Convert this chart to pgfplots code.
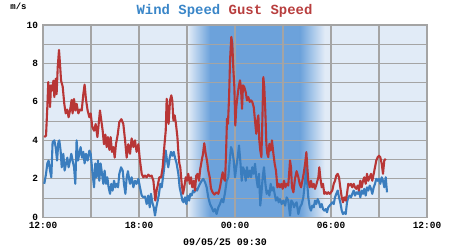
\documentclass[border=0pt]{standalone}
\usepackage{pgfplots}
\pgfplotsset{compat=1.18}
\usepackage{fontspec}
\setmainfont{Liberation Mono}
\definecolor{bgc}{HTML}{E1EBF7}
\definecolor{nightc}{HTML}{6CA2DB}
\definecolor{gridc}{HTML}{A4A4A4}
\definecolor{windc}{HTML}{3A7DBE}
\definecolor{gustc}{HTML}{B83636}
\definecolor{titleblue}{HTML}{3A86C8}
\definecolor{titlered}{HTML}{B83E3E}
\begin{document}
\begin{tikzpicture}
\begin{axis}[
  set layers,
  at={(43bp,33.3bp)}, anchor=south west,
  width=384bp, height=192.4bp, scale only axis,
  xmin=0, xmax=24, ymin=0, ymax=10,
  xtick={0,3,...,24},
  xticklabels={12:00,,18:00,,00:00,,06:00,,12:00},
  ytick={0,1,...,10},
  yticklabels={0,,2,,4,,6,,8,,10},
  major tick length=0pt,
  grid=major,
  major grid style={gridc, line width=1.1bp},
  axis line style={gridc, line width=1.3bp},
  tick label style={font=\fontsize{9.5}{10}\selectfont\bfseries, black},
  xticklabel style={yshift=-1.5bp},
  yticklabel style={xshift=-1.5bp},
]
\pgfplotsextra{%
\begin{pgfonlayer}{axis background}
\fill[bgc] (axis cs:0,0) rectangle (axis cs:24,10);
\shade[left color=bgc, right color=nightc] (axis cs:9.06,0) rectangle (axis cs:10.44,10);
\fill[nightc] (axis cs:10.43,0) rectangle (axis cs:16.07,10);
\shade[left color=nightc, right color=bgc] (axis cs:16.06,0) rectangle (axis cs:17.6,10);
\end{pgfonlayer}}
% Wind speed
\addplot[windc, line width=2.1bp, line join=round] coordinates {
(0.08,1.74)(0.19,2.26)(0.27,2.8)(0.35,2.95)(0.44,2.43)(0.52,2.08)(0.60,3.9)(0.71,4.0)
(0.79,3.65)(0.88,2.95)(0.96,3.9)(1.02,4.0)(1.10,3.47)(1.17,2.6)(1.27,3.3)(1.35,2.43)
(1.44,2.8)(1.52,3.1)(1.60,2.6)(1.69,2.95)(1.77,3.3)(1.85,2.95)(1.94,2.6)(2.02,1.74)
(2.10,4.0)(2.19,2.95)(2.27,3.3)(2.35,3.65)(2.44,3.1)(2.52,3.4)(2.60,2.8)(2.69,3.3)
(2.79,2.95)(2.90,3.47)(2.98,3.3)(3.08,2.43)(3.19,1.56)(3.27,2.8)(3.35,2.08)(3.44,2.95)
(3.52,1.9)(3.60,2.8)(3.69,2.26)(3.77,1.74)(3.85,2.43)(3.94,1.74)(4.02,2.08)(4.10,1.56)
(4.19,1.22)(4.27,1.74)(4.35,1.39)(4.44,1.9)(4.52,1.56)(4.60,1.74)(4.69,1.56)(4.77,2.26)
(4.88,2.6)(4.98,2.43)(5.06,1.74)(5.15,1.22)(5.23,2.08)(5.31,2.4)(5.40,1.9)(5.44,1.74)
(5.54,2.08)(5.65,1.56)(5.75,1.9)(5.85,1.74)(5.96,2.0)(6.06,1.56)(6.17,1.13)(6.27,1.04)
(6.38,1.08)(6.48,0.69)(6.58,1.13)(6.67,0.52)(6.75,1.22)(6.83,0.78)(6.92,0.52)(7.00,0.09)
(7.08,0.52)(7.17,0.87)(7.25,1.22)(7.33,1.74)(7.42,1.56)(7.50,2.08)(7.58,2.6)(7.67,3.47)
(7.75,2.95)(7.83,2.6)(7.92,3.1)(8.00,3.4)(8.08,3.2)(8.17,3.4)(8.25,3.1)(8.35,2.8)
(8.46,2.26)(8.54,1.56)(8.63,1.22)(8.71,0.87)(8.79,0.78)(8.88,1.04)(8.96,0.69)(9.04,1.13)
(9.13,0.87)(9.21,1.22)(9.29,1.13)(9.38,1.39)(9.46,1.3)(9.54,1.48)(9.63,1.39)(9.71,1.56)
(9.81,1.74)(9.92,1.9)(10.02,2.0)(10.13,1.82)(10.23,1.56)(10.33,1.04)(10.44,0.69)(10.54,0.52)
(10.65,0.3)(10.75,0.43)(10.85,0.17)(10.96,0.52)(11.06,0.69)(11.17,0.95)(11.27,0.78)(11.38,1.3)
(11.48,1.9)(11.58,2.08)(11.67,2.95)(11.75,3.65)(11.83,3.47)(11.92,2.95)(12.00,2.08)(12.08,2.6)
(12.17,3.13)(12.25,3.73)(12.33,2.95)(12.42,1.9)(12.50,2.6)(12.58,2.43)(12.67,1.9)(12.75,2.6)
(12.83,2.08)(12.92,2.43)(13.00,2.08)(13.08,2.6)(13.17,2.26)(13.25,2.78)(13.33,2.08)(13.42,1.56)
(13.50,2.26)(13.58,0.61)(13.65,1.22)(13.73,2.08)(13.81,2.6)(13.90,1.74)(13.98,1.22)(14.06,1.39)
(14.15,1.13)(14.23,1.74)(14.31,1.39)(14.40,1.56)(14.48,1.22)(14.56,0.87)(14.65,1.04)(14.73,0.78)
(14.81,0.95)(14.92,0.69)(15.02,0.87)(15.13,0.61)(15.23,1.04)(15.33,0.87)(15.44,0.09)(15.52,0.87)
(15.60,0.78)(15.69,0.52)(15.78,0.7)(15.85,0.78)(15.96,0.17)(16.06,0.52)(16.17,0.69)(16.27,1.04)
(16.38,1.9)(16.44,2.6)(16.50,1.9)(16.58,1.04)(16.67,0.52)(16.75,0.35)(16.83,0.61)(16.92,0.52)
(17.00,0.87)(17.08,0.69)(17.17,0.95)(17.25,0.78)(17.33,0.52)(17.42,0.69)(17.50,0.43)(17.58,0.35)
(17.67,0.43)(17.75,0.26)(17.83,0.52)(17.92,0.61)(18.00,0.69)(18.08,0.78)(18.17,0.69)(18.25,1.04)
(18.33,1.22)(18.42,1.39)(18.50,1.04)(18.58,0.78)(18.67,0.35)(18.75,0.17)(18.83,0.26)(18.92,0.17)
(19.00,0.78)(19.08,1.04)(19.17,1.13)(19.25,1.04)(19.33,1.22)(19.42,1.39)(19.50,1.13)(19.58,1.3)
(19.67,1.22)(19.75,1.39)(19.83,1.04)(19.92,1.39)(20.00,1.22)(20.08,1.48)(20.17,1.13)(20.25,1.56)
(20.33,1.39)(20.42,1.65)(20.50,1.48)(20.58,1.22)(20.67,1.56)(20.75,1.74)(20.83,2.0)(20.92,1.9)
(21.00,2.0)(21.08,1.74)(21.17,2.08)(21.25,1.9)(21.33,1.56)(21.42,2.08)(21.50,1.3)
};
% Gust speed
\addplot[gustc, line width=2.1bp, line join=round] coordinates {
(0.08,4.17)(0.19,4.25)(0.27,5.73)(0.33,7.03)(0.44,5.73)(0.50,6.86)(0.58,6.6)(0.65,7.1)
(0.71,6.25)(0.79,7.2)(0.85,6.4)(0.92,7.8)(1.00,8.7)(1.06,8.0)(1.13,7.1)(1.23,6.8)
(1.33,5.9)(1.42,5.4)(1.52,5.6)(1.60,5.2)(1.69,5.55)(1.79,6.1)(1.85,5.4)(1.94,6.15)
(2.02,5.55)(2.10,5.9)(2.21,5.4)(2.31,5.6)(2.42,5.55)(2.52,6.4)(2.60,6.9)(2.69,6.1)
(2.79,5.55)(2.90,5.2)(2.98,5.4)(3.08,4.7)(3.19,4.5)(3.29,4.85)(3.40,4.17)(3.48,4.85)
(3.56,5.55)(3.65,5.0)(3.73,4.5)(3.81,3.8)(3.90,4.3)(3.98,3.65)(4.06,4.17)(4.15,3.5)
(4.23,4.17)(4.31,3.4)(4.40,3.65)(4.48,3.1)(4.56,3.8)(4.67,4.3)(4.77,4.95)(4.90,5.1)
(5.02,4.85)(5.13,4.0)(5.23,3.1)(5.33,3.8)(5.44,3.3)(5.54,4.1)(5.65,3.65)(5.75,4.0)
(5.85,3.4)(5.96,3.8)(6.06,2.95)(6.17,2.26)(6.27,2.08)(6.38,2.17)(6.48,2.08)(6.58,2.22)
(6.69,2.12)(6.79,2.17)(6.90,1.9)(6.96,1.39)(7.02,0.87)(7.10,1.39)(7.19,1.74)(7.27,2.08)
(7.38,2.08)(7.48,2.6)(7.58,3.65)(7.67,4.5)(7.73,6.16)(7.79,5.55)(7.85,4.85)(7.94,6.08)
(8.02,6.34)(8.08,6.08)(8.15,5.03)(8.23,5.3)(8.31,4.85)(8.40,4.17)(8.46,3.4)(8.52,2.8)
(8.58,2.6)(8.67,1.74)(8.75,1.22)(8.83,1.56)(8.92,2.08)(9.00,1.9)(9.08,2.26)(9.17,1.74)
(9.25,2.08)(9.33,1.56)(9.42,1.9)(9.50,1.39)(9.58,2.17)(9.67,2.26)(9.75,1.9)(9.83,2.52)
(9.92,2.95)(10.00,3.3)(10.08,3.85)(10.17,3.3)(10.25,2.95)(10.33,2.43)(10.42,2.08)(10.50,1.5)
(10.60,1.3)(10.71,1.18)(10.85,1.3)(10.96,1.22)(11.06,1.56)(11.17,2.08)(11.23,2.34)(11.31,2.0)
(11.38,1.9)(11.44,3.3)(11.50,5.12)(11.56,4.86)(11.63,6.25)(11.69,8.16)(11.77,9.38)(11.83,9.03)
(11.90,7.64)(11.96,6.77)(12.02,4.77)(12.08,5.73)(12.15,6.25)(12.23,6.77)(12.31,7.12)(12.37,6.77)
(12.44,5.64)(12.50,6.86)(12.58,6.77)(12.67,6.5)(12.75,6.08)(12.83,6.25)(12.92,6.0)(13.00,6.08)
(13.08,6.0)(13.17,5.73)(13.25,5.03)(13.33,4.34)(13.40,5.03)(13.46,5.3)(13.52,4.0)(13.58,3.47)
(13.65,3.13)(13.71,5.03)(13.77,7.29)(13.83,6.77)(13.90,5.38)(13.96,3.82)(14.02,3.3)(14.08,3.13)
(14.15,3.82)(14.23,3.47)(14.31,4.0)(14.40,3.3)(14.48,2.78)(14.56,2.43)(14.65,1.56)(14.73,1.74)
(14.81,1.56)(14.90,1.74)(14.98,1.48)(15.06,1.9)(15.15,1.56)(15.23,1.74)(15.33,1.65)(15.44,2.95)
(15.50,2.6)(15.56,1.56)(15.65,1.3)(15.75,2.0)(15.85,2.4)(15.96,2.08)(16.04,1.74)(16.13,1.56)
(16.21,1.9)(16.29,2.26)(16.38,2.78)(16.46,3.39)(16.52,2.6)(16.58,1.9)(16.67,1.56)(16.75,1.9)
(16.83,1.56)(16.92,1.74)(17.00,1.48)(17.10,1.74)(17.21,2.08)(17.27,2.6)(17.33,2.08)(17.42,1.56)
(17.50,1.74)(17.58,1.22)(17.67,1.3)(17.75,1.22)(17.83,1.3)(17.92,1.22)(18.00,1.3)(18.08,1.39)
(18.17,1.74)(18.25,1.9)(18.33,2.17)(18.42,2.26)(18.50,2.08)(18.58,1.56)(18.67,1.04)(18.75,0.78)
(18.83,1.04)(18.92,0.87)(19.00,1.22)(19.08,1.74)(19.17,1.65)(19.25,1.74)(19.33,1.56)(19.42,1.74)
(19.50,1.56)(19.58,1.48)(19.67,1.65)(19.75,1.39)(19.83,1.9)(19.92,1.56)(20.00,1.9)(20.08,2.08)
(20.17,1.74)(20.25,2.26)(20.33,1.9)(20.42,2.08)(20.50,2.26)(20.58,1.9)(20.67,2.26)(20.75,2.6)
(20.83,2.95)(20.92,3.13)(21.00,3.2)(21.08,3.13)(21.17,2.78)(21.25,2.26)(21.33,2.95)(21.42,3.04)
};
\end{axis}
\path (0,0) rectangle (450bp,250bp);
\node[font=\fontsize{14}{16}\selectfont\bfseries] at (224.5bp,240bp) {\textcolor{titleblue}{Wind Speed} \textcolor{titlered}{Gust Speed}};
\node[font=\fontsize{9}{10}\selectfont\bfseries] at (18.5bp,244bp) {m/s};
\node[font=\fontsize{10}{11}\selectfont\bfseries] at (225bp,9bp) {09/05/25 09:30};
\end{tikzpicture}
\end{document}
